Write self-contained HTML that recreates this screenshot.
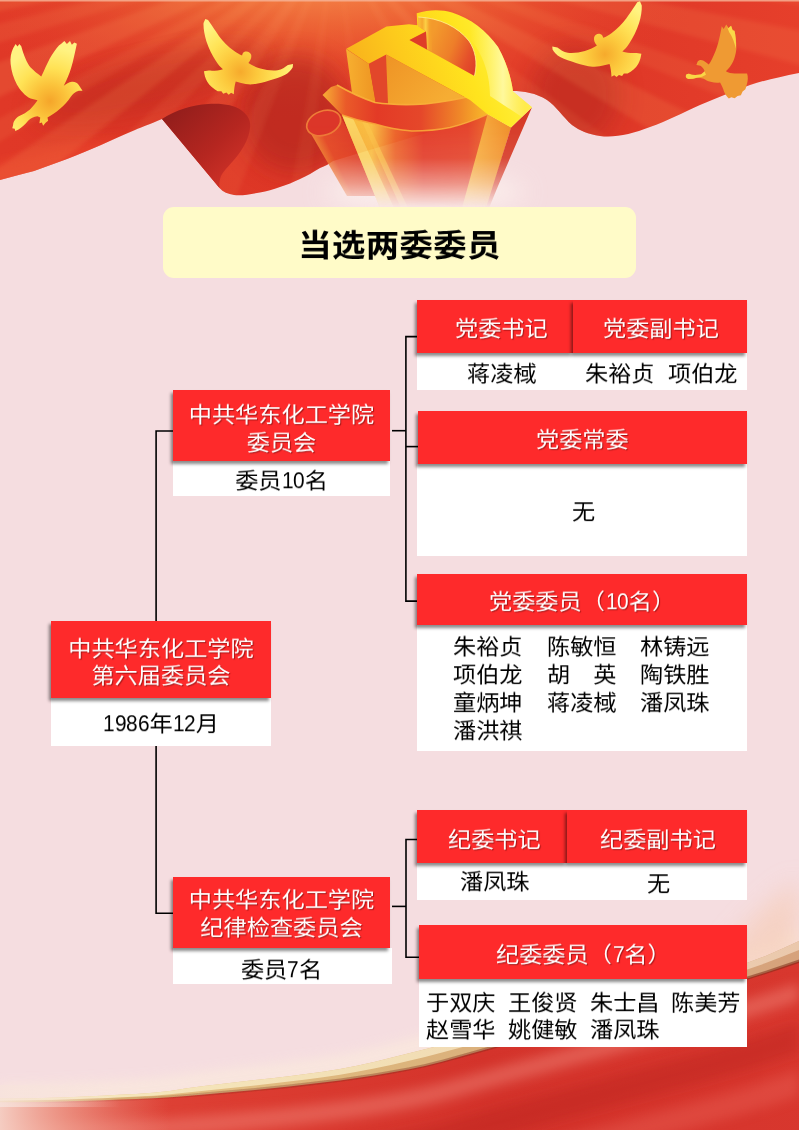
<!DOCTYPE html>
<html lang="zh-CN">
<head>
<meta charset="utf-8">
<title>当选两委委员</title>
<style>
html,body{margin:0;padding:0;}
body{width:799px;height:1130px;position:relative;overflow:hidden;background:#f5dde0;
  font-family:"Liberation Sans","Noto Sans CJK SC",sans-serif;font-size:23.2px;color:#000;}
#bg{position:absolute;left:0;top:0;width:799px;height:1130px;}
.abs{position:absolute;}
.red{position:absolute;background:#fe2a2b;color:#fff;text-align:center;white-space:nowrap;
  box-shadow:-2px 3px 3px rgba(0,0,0,.46);text-shadow:1px 1px 1px rgba(90,0,0,.55);line-height:28px;}
.wht{position:absolute;background:#fff;color:#000;text-align:center;white-space:nowrap;line-height:28px;}
.ln{position:absolute;background:#000;}
.t{position:absolute;white-space:nowrap;line-height:28px;height:28px;will-change:transform;transform:scaleY(.94);transform-origin:50% 26px;}
.n{display:inline-block;width:.5em;transform:scaleX(.9);transform-origin:0 50%;text-align:left;}
#title{position:absolute;left:163px;top:207px;width:473px;height:71px;border-radius:11px;background:#fffbc8;
  text-align:center;font-weight:bold;font-size:33.4px;letter-spacing:.4px;line-height:71px;color:#000;}
</style>
</head>
<body>
<!--BG-START-->
<svg id="bg" viewBox="0 0 799 1130" width="799" height="1130">
<defs>
  <linearGradient id="flagG" x1="0" y1="0" x2="799" y2="0" gradientUnits="userSpaceOnUse">
    <stop offset="0" stop-color="#e03827"/>
    <stop offset="0.25" stop-color="#dd3626"/>
    <stop offset="0.5" stop-color="#e23b28"/>
    <stop offset="0.8" stop-color="#e03928"/>
    <stop offset="1" stop-color="#e63f2b"/>
  </linearGradient>
  <radialGradient id="glowG" cx="320" cy="-30" r="300" gradientUnits="userSpaceOnUse" gradientTransform="translate(320 -30) scale(1.3 0.5) translate(-320 30)">
    <stop offset="0" stop-color="#fba057" stop-opacity=".95"/>
    <stop offset="0.4" stop-color="#f47a3c" stop-opacity=".6"/>
    <stop offset="1" stop-color="#e8402a" stop-opacity="0"/>
  </radialGradient>
  <linearGradient id="foldG" x1="170" y1="105" x2="245" y2="185" gradientUnits="userSpaceOnUse">
    <stop offset="0" stop-color="#8f1d1b"/>
    <stop offset="0.55" stop-color="#b52620"/>
    <stop offset="1" stop-color="#d8352a"/>
  </linearGradient>
  <linearGradient id="fadeG" x1="0" y1="122" x2="0" y2="208" gradientUnits="userSpaceOnUse">
    <stop offset="0" stop-color="#fff" stop-opacity="1"/>
    <stop offset="0.42" stop-color="#fff" stop-opacity=".9"/>
    <stop offset="0.72" stop-color="#fff" stop-opacity=".5"/>
    <stop offset="1" stop-color="#fff" stop-opacity="0"/>
  </linearGradient>
  <mask id="fadeM" maskUnits="userSpaceOnUse" x="280" y="0" width="300" height="220">
    <rect x="280" y="0" width="300" height="220" fill="url(#fadeG)"/>
  </mask>
  <linearGradient id="yelG" x1="350" y1="85" x2="505" y2="25" gradientUnits="userSpaceOnUse">
    <stop offset="0" stop-color="#f7ad1c"/>
    <stop offset="0.35" stop-color="#fdca1c"/>
    <stop offset="0.7" stop-color="#ffe41e"/>
    <stop offset="1" stop-color="#fff23e"/>
  </linearGradient>
  <linearGradient id="bandG" x1="325" y1="100" x2="500" y2="105" gradientUnits="userSpaceOnUse">
    <stop offset="0" stop-color="#f6a534"/>
    <stop offset="0.12" stop-color="#ea5a29"/>
    <stop offset="0.3" stop-color="#e33a26"/>
    <stop offset="0.55" stop-color="#e5472a"/>
    <stop offset="0.78" stop-color="#f08a28"/>
    <stop offset="1" stop-color="#fdd22a"/>
  </linearGradient>
  <linearGradient id="wallG" x1="342" y1="0" x2="490" y2="0" gradientUnits="userSpaceOnUse">
    <stop offset="0" stop-color="#f8b83a"/>
    <stop offset="0.2" stop-color="#f9bf45"/>
    <stop offset="0.36" stop-color="#ec672d"/>
    <stop offset="0.55" stop-color="#e23c28"/>
    <stop offset="0.85" stop-color="#e4432a"/>
    <stop offset="1" stop-color="#ec6a2c"/>
  </linearGradient>
  <linearGradient id="doveG" x1="0" y1="0" x2="1" y2="1">
    <stop offset="0" stop-color="#fff066"/>
    <stop offset="0.6" stop-color="#ffd52e"/>
    <stop offset="1" stop-color="#f6a81c"/>
  </linearGradient>
  
  <radialGradient id="doveG1" cx="400" cy="570" r="430" gradientUnits="userSpaceOnUse">
    <stop offset="0" stop-color="#f5a52a"/>
    <stop offset="0.3" stop-color="#fbc23a"/>
    <stop offset="0.62" stop-color="#ffe255"/>
    <stop offset="1" stop-color="#fff382"/>
  </radialGradient>
  <radialGradient id="doveG2" cx="330" cy="450" r="400" gradientUnits="userSpaceOnUse">
    <stop offset="0" stop-color="#f6aa2c"/>
    <stop offset="0.3" stop-color="#fcc83c"/>
    <stop offset="0.65" stop-color="#ffe458"/>
    <stop offset="1" stop-color="#fff382"/>
  </radialGradient>

  <linearGradient id="ribG" x1="0" y1="1130" x2="799" y2="980" gradientUnits="userSpaceOnUse">
    <stop offset="0" stop-color="#e0493c"/>
    <stop offset="0.3" stop-color="#dc3c31"/>
    <stop offset="0.6" stop-color="#d4332b"/>
    <stop offset="1" stop-color="#d8372e"/>
  </linearGradient>
  <linearGradient id="bandTopG" x1="0" y1="0" x2="799" y2="0" gradientUnits="userSpaceOnUse">
    <stop offset="0" stop-color="#e9c98a"/>
    <stop offset="0.5" stop-color="#dcb47c"/>
    <stop offset="1" stop-color="#d6a27c"/>
  </linearGradient>
  <linearGradient id="leftFadeG" x1="0" y1="0" x2="170" y2="0" gradientUnits="userSpaceOnUse">
    <stop offset="0" stop-color="#f6d3c8" stop-opacity=".95"/>
    <stop offset="0.4" stop-color="#f3b9a8" stop-opacity=".6"/>
    <stop offset="1" stop-color="#f0a090" stop-opacity="0"/>
  </linearGradient>
  <filter id="b2" x="-10%" y="-30%" width="120%" height="160%"><feGaussianBlur stdDeviation="2"/></filter>
  <clipPath id="ribClip"><path d="M0,1130 L0,1101.5 L17,1101.4 L34,1101.2 L51,1100.9 L68,1100.5 L85,1100.0 L102,1099.4 L119,1098.8 L136,1098.1 L153,1097.4 L170,1096.4 L187,1095.1 L204,1093.7 L221,1092.2 L238,1090.7 L255,1089.1 L272,1087.5 L289,1085.7 L306,1083.8 L323,1081.7 L340,1079.6 L357,1077.3 L374,1074.6 L391,1071.8 L408,1068.6 L425,1065.1 L442,1060.9 L459,1056.3 L476,1051.5 L493,1046.7 L510,1042.1 L527,1037.5 L544,1032.9 L561,1028.3 L578,1023.8 L595,1019.2 L612,1014.7 L629,1010.1 L646,1005.5 L663,1001.0 L680,996.5 L697,991.9 L714,987.3 L731,982.4 L748,977.4 L765,972.1 L782,966.5 L799,960.7 L799,1130 Z"/></clipPath>
  <linearGradient id="leftFadeG2" x1="0" y1="0" x2="120" y2="0" gradientUnits="userSpaceOnUse">
    <stop offset="0" stop-color="#f7e3dc" stop-opacity=".8"/>
    <stop offset="1" stop-color="#f7e3dc" stop-opacity="0"/>
  </linearGradient>
  <clipPath id="flagClip"><path d="M0,0 H799 V73 C780,77 765,80 750,85 C732,92 716,98 700,105 C682,113 667,121 650,127 C632,134 615,138 600,136 C588,134 580,131 572,125 C563,117 556,106 547,100 C536,93 524,91 512,91 L470,120 L333,161 C329,164 325,166 320,168 C313,172 307,176 300,179 C293,182 287,185 280,187 C273,189.5 267,191.5 260,192.5 C251,194 242,196 234,195 C228,194 223,192 219.5,188 L162,119 C150,124 142,127 135,130 C123,135 112,140 101,145 C90,150 79,154 67,159 C56,163 45,167 34,171 C22,174 11,177 0,180 Z"/></clipPath>

  <linearGradient id="cylG" x1="315" y1="150" x2="365" y2="125" gradientUnits="userSpaceOnUse">
    <stop offset="0" stop-color="#f39a3c"/>
    <stop offset="0.25" stop-color="#e6502c"/>
    <stop offset="1" stop-color="#d93628"/>
  </linearGradient>
  <linearGradient id="hwG" x1="470" y1="0" x2="512" y2="0" gradientUnits="userSpaceOnUse">
    <stop offset="0" stop-color="#f8b545"/>
    <stop offset="1" stop-color="#f08c28"/>
  </linearGradient>
  <linearGradient id="hlwG" x1="346" y1="0" x2="376" y2="0" gradientUnits="userSpaceOnUse">
    <stop offset="0" stop-color="#f7b030"/>
    <stop offset="1" stop-color="#ee9422"/>
  </linearGradient>
  <linearGradient id="hfwG" x1="388" y1="60" x2="440" y2="105" gradientUnits="userSpaceOnUse">
    <stop offset="0" stop-color="#ef9526"/>
    <stop offset="1" stop-color="#f6ad33"/>
  </linearGradient>
  <linearGradient id="innerG" x1="430" y1="40" x2="478" y2="60" gradientUnits="userSpaceOnUse">
    <stop offset="0" stop-color="#f39a2c"/>
    <stop offset="0.45" stop-color="#ee7e29"/>
    <stop offset="0.8" stop-color="#e5502a"/>
    <stop offset="1" stop-color="#df3f29"/>
  </linearGradient>
  <linearGradient id="innerStreak" x1="418" y1="0" x2="432" y2="0" gradientUnits="userSpaceOnUse">
    <stop offset="0" stop-color="#fbc43a"/>
    <stop offset="0.3" stop-color="#f6a82e"/>
    <stop offset="0.55" stop-color="#fcd045"/>
    <stop offset="0.8" stop-color="#f5a22c"/>
    <stop offset="1" stop-color="#f39a2c"/>
  </linearGradient>
  <linearGradient id="yelHi" x1="470" y1="60" x2="525" y2="60" gradientUnits="userSpaceOnUse">
    <stop offset="0" stop-color="#fff68a" stop-opacity="0"/>
    <stop offset="0.6" stop-color="#fffbb0" stop-opacity=".85"/>
    <stop offset="1" stop-color="#ffe95a" stop-opacity=".6"/>
  </linearGradient>
  <linearGradient id="edgeG" x1="0" y1="0" x2="799" y2="0" gradientUnits="userSpaceOnUse">
    <stop offset="0" stop-color="#7c2a18" stop-opacity="0"/>
    <stop offset="0.3" stop-color="#7c2a18" stop-opacity=".3"/>
    <stop offset="1" stop-color="#7c2a18" stop-opacity=".55"/>
  </linearGradient>
  <linearGradient id="creamG" x1="0" y1="0" x2="799" y2="0" gradientUnits="userSpaceOnUse">
    <stop offset="0" stop-color="#f8ecc2"/>
    <stop offset="0.5" stop-color="#f4e2ba"/>
    <stop offset="0.8" stop-color="#f0d6b8"/>
    <stop offset="1" stop-color="#eccbb0"/>
  </linearGradient>
  <filter id="b1" x="-10%" y="-10%" width="120%" height="120%"><feGaussianBlur stdDeviation="0.6"/></filter>
  <filter id="b6" x="-20%" y="-20%" width="140%" height="140%"><feGaussianBlur stdDeviation="6"/></filter>
  <filter id="b12" x="-30%" y="-30%" width="160%" height="160%"><feGaussianBlur stdDeviation="12"/></filter>
</defs>

<!-- page background -->
<rect x="0" y="0" width="799" height="1130" fill="#f5dde0"/>

<!-- TOP FLAG -->
<g id="flag">
  <path id="flagShape" d="M0,0 H799 V73 C780,77 765,80 750,85 C732,92 716,98 700,105 C682,113 667,121 650,127 C632,134 615,138 600,136 C588,134 580,131 572,125 C563,117 556,106 547,100 C536,93 524,91 512,91 L470,120 L333,161 C329,164 325,166 320,168 C313,172 307,176 300,179 C293,182 287,185 280,187 C273,189.5 267,191.5 260,192.5 C251,194 242,196 234,195 C228,194 223,192 219.5,188 L162,119 C150,124 142,127 135,130 C123,135 112,140 101,145 C90,150 79,154 67,159 C56,163 45,167 34,171 C22,174 11,177 0,180 Z" fill="url(#flagG)"/>
  <g clip-path="url(#flagClip)">
    <rect x="0" y="0" width="799" height="210" fill="url(#glowG)"/>
    <ellipse cx="295" cy="115" rx="55" ry="58" fill="#a8211f" opacity=".55" filter="url(#b12)"/>
    <ellipse cx="575" cy="95" rx="45" ry="50" fill="#a8211f" opacity=".42" filter="url(#b12)"/>
    <ellipse cx="150" cy="85" rx="120" ry="28" transform="rotate(-14 150 85)" fill="#b4261e" opacity=".42" filter="url(#b12)"/>
    <ellipse cx="40" cy="165" rx="90" ry="14" transform="rotate(-14 40 165)" fill="#ee4a2e" opacity=".5" filter="url(#b6)"/>
    <g filter="url(#b2)">
    <path d="M335,-60 L-180,12 L-174,48 Z" fill="#ffb060" opacity="0.15"/>
    <path d="M335,-60 L-170,66 L-162,92 Z" fill="#ffb060" opacity="0.11"/>
    <path d="M335,-60 L-154,118 L-136,160 Z" fill="#ffb060" opacity="0.14"/>
    <path d="M335,-60 L-124,184 L-111,208 Z" fill="#ffb060" opacity="0.10"/>
    <path d="M335,-60 L-96,231 L-69,267 Z" fill="#ffb060" opacity="0.13"/>
    <path d="M335,-60 L-45,295 L-20,320 Z" fill="#ffb060" opacity="0.09"/>
    <path d="M335,-60 L15,350 L59,381 Z" fill="#ffb060" opacity="0.11"/>
    <path d="M335,-60 L107,407 L149,425 Z" fill="#ffb060" opacity="0.08"/>
    <path d="M335,-60 L245,452 L281,457 Z" fill="#ffb060" opacity="0.07"/>
    <path d="M335,-60 L389,457 L425,452 Z" fill="#ffb060" opacity="0.06"/>
    <path d="M335,-60 L579,399 L618,376 Z" fill="#ffb060" opacity="0.09"/>
    <path d="M335,-60 L669,338 L703,308 Z" fill="#ffb060" opacity="0.12"/>
    <path d="M335,-60 L733,274 L756,246 Z" fill="#ffb060" opacity="0.09"/>
    <path d="M335,-60 L781,208 L802,168 Z" fill="#ffb060" opacity="0.13"/>
    <path d="M335,-60 L817,135 L827,109 Z" fill="#ffb060" opacity="0.10"/>
    <path d="M335,-60 L837,75 L845,39 Z" fill="#ffb060" opacity="0.12"/>
    <path d="M335,-60 L850,12 L853,-15 Z" fill="#ffb060" opacity="0.09"/>
    </g>
    <rect x="0" y="0" width="799" height="1.5" fill="#f6b59a" opacity=".8"/>
  </g>
  <!-- fold underside -->
  <path d="M162,119 C176,110 192,105 208,104 C222,103 234,105 241,110 C248,115 251,121 250,128 C249,138 244,147 238,155 C231,164 224,170 221,176 C219.5,180 219,184 219.5,188 Z" fill="url(#foldG)"/>
</g>

<!-- EMBLEM -->
<g id="emblem">
  <!-- white glow under emblem -->
  <ellipse cx="425" cy="192" rx="100" ry="20" fill="#fdf3ef" opacity=".75" filter="url(#b12)"/>
  <g mask="url(#fadeM)">
    <!-- rolled cylinder -->
    <path d="M307,127 L347,196 L385,196 L341,118 Z" fill="url(#cylG)"/>
    <ellipse cx="323.7" cy="123" rx="17.5" ry="12" transform="rotate(-20 323.7 123)" fill="#dc3629" stroke="#ee7c38" stroke-width="1.7"/>
    <!-- sickle outer wall -->
    <path d="M342,115 C353,119 364,122 375,124 C388,128 400,130 412,131 C426,131 438,130 450,127.5 C464,124 477,119 487.5,114.3 L511,127.5 L482,208 L380,208 Z" fill="url(#wallG)"/>
    <!-- streaks on left wall -->
    <path d="M342,115 L353,118.5 L394,208 L380,208 Z" fill="#fcd868" opacity=".85"/>
    <path d="M362,121.5 L368,123 L408,208 L401,208 Z" fill="#fbc94e" opacity=".6"/>
    <!-- handle lower side wall -->
    <path d="M487.5,114.3 L511,127.5 L487,208 L462,208 Z" fill="url(#hwG)"/>
    <!-- handle end wall -->
    <path d="M511,127.5 L532,107.3 L498,186 L489,208 L486,208 Z" fill="#d63a26"/>
  </g>
  <!-- walls of hammer (under top face) -->
  <path d="M346,49 L369,64 L376,104 L352,93 Z" fill="url(#hlwG)"/>
  <path d="M369,64 L386,54.5 L388,104 L376,104 Z" fill="#e2472a"/>
  <path d="M386,54.5 L470,100 L425,106 L388,104 Z" fill="url(#hfwG)"/>
  <!-- sickle bottom band -->
  <path d="M322.5,95 L331,87 L337,85 C349,92 362,98 375,102.5 C392,105 408,105 425,104 C443,102 460,99 475,95 L500,100 L487.5,114.3 C477,119 464,124 450,127.5 C438,130 426,131 412,131 C400,130 388,128 375,124 C364,122 353,119 342,115 Z" fill="url(#bandG)"/>
  <path d="M337,85 C349,92 362,98 375,102.5 C392,105 408,105 425,104 C443,102 460,99 475,95" fill="none" stroke="#f9b23a" stroke-width="1.6" opacity=".9"/>
  <path d="M342,115 C353,119 364,122 375,124 C388,128 400,130 412,131 C426,131 438,130 450,127.5 C464,124 477,119 487.5,114.3" fill="none" stroke="#f8a838" stroke-width="1.4" opacity=".9"/>
  <!-- top faces -->
  <path d="M346.25,48.75 L386.5,26.5 L409,24.2 L417.3,25.3 L416.7,13.2 C430,9 442,9.5 452,12.5 C470,18 487,31 498,47 C506,61 511,77 513,91.5 L532,107.3 L511,127.5 L487.5,114.3 L470,100 L386.25,54.5 L368.75,63.75 Z" fill="url(#yelG)"/>
  <path d="M452,12.5 C470,18 487,31 498,47 C506,61 511,77 513,91.5 L532,107.3 L522,117 L490,96 C490,70 480,42 452,22 Z" fill="url(#yelHi)"/>
  <!-- hollow inside sickle: inner wall -->
  <path d="M409.5,40 L426,31.5 L418.3,26.3 L418.3,17 C440,18 458,27 469,41 C475,50 478,62 474.5,76 Z" fill="url(#innerG)"/>
  <path d="M418.3,17 C423,17.2 428,17.8 432,18.8 L432,51.5 L427,48.8 L426,31.5 L418.3,26.3 Z" fill="url(#innerStreak)"/>
  <path d="M409.5,40 L426,31.5 L427,49.5 Z" fill="#df3d28"/>
  <path d="M418.3,17 C440,18 458,27 469,41 C475,50 478,62 474.5,76" fill="none" stroke="#fff9a0" stroke-width="1" opacity=".7"/>
</g>


<!-- BOTTOM RIBBON -->
<g id="ribbon">
  <path d="M0,1095.5 L0,1084.5 L17,1084.4 L34,1084.2 L51,1083.7 L68,1083.2 L85,1082.5 L102,1081.7 L119,1080.8 L136,1079.9 L153,1078.8 L170,1076.9 L187,1074.3 L204,1072.0 L221,1069.9 L238,1068.0 L255,1066.1 L272,1064.2 L289,1062.2 L306,1060.1 L323,1057.7 L340,1055.0 L357,1051.8 L374,1047.9 L391,1043.7 L408,1039.4 L425,1035.2 L442,1030.9 L459,1026.5 L476,1022.0 L493,1017.6 L510,1013.2 L527,1008.7 L544,1004.3 L561,999.8 L578,995.3 L595,990.7 L612,986.2 L629,981.6 L646,977.2 L663,972.9 L680,968.5 L697,964.0 L714,959.3 L731,954.2 L748,948.6 L765,942.2 L782,934.8 L799,927.0 L799,944.0 L782,951.8 L765,959.2 L748,965.6 L731,971.2 L714,976.3 L697,981.0 L680,985.5 L663,989.9 L646,994.2 L629,998.6 L612,1003.2 L595,1007.7 L578,1012.3 L561,1016.8 L544,1021.3 L527,1025.7 L510,1030.2 L493,1034.6 L476,1039.0 L459,1043.5 L442,1047.9 L425,1052.2 L408,1056.4 L391,1060.7 L374,1064.9 L357,1068.8 L340,1072.0 L323,1074.7 L306,1077.1 L289,1079.2 L272,1081.2 L255,1083.1 L238,1085.0 L221,1086.9 L204,1089.0 L187,1091.3 L170,1093.9 L153,1095.8 L136,1096.9 L119,1097.8 L102,1098.7 L85,1099.5 L68,1100.2 L51,1100.7 L34,1101.2 L17,1101.4 L0,1101.5 Z" fill="#fbeadd" opacity=".75" filter="url(#b6)"/>
  <path d="M799,880 L799,960 L700,990 C720,950 760,905 799,880 Z" fill="#f6cdb8" opacity=".7" filter="url(#b12)"/>
  <path d="M0,1130 L0,1101.5 L17,1101.4 L34,1101.2 L51,1100.9 L68,1100.5 L85,1100.0 L102,1099.4 L119,1098.8 L136,1098.1 L153,1097.4 L170,1096.4 L187,1095.1 L204,1093.7 L221,1092.2 L238,1090.7 L255,1089.1 L272,1087.5 L289,1085.7 L306,1083.8 L323,1081.7 L340,1079.6 L357,1077.3 L374,1074.6 L391,1071.8 L408,1068.6 L425,1065.1 L442,1060.9 L459,1056.3 L476,1051.5 L493,1046.7 L510,1042.1 L527,1037.5 L544,1032.9 L561,1028.3 L578,1023.8 L595,1019.2 L612,1014.7 L629,1010.1 L646,1005.5 L663,1001.0 L680,996.5 L697,991.9 L714,987.3 L731,982.4 L748,977.4 L765,972.1 L782,966.5 L799,960.7 L799,1130 Z" fill="url(#ribG)"/>
  <g clip-path="url(#ribClip)">
    <path d="M0,1130 L0,1123.5 L17,1123.4 L34,1123.2 L51,1122.9 L68,1122.5 L85,1122.0 L102,1121.4 L119,1120.8 L136,1120.1 L153,1119.4 L170,1118.4 L187,1117.1 L204,1115.7 L221,1114.2 L238,1112.7 L255,1111.1 L272,1109.5 L289,1107.7 L306,1105.8 L323,1103.7 L340,1101.6 L357,1099.3 L374,1096.6 L391,1093.8 L408,1090.6 L425,1087.1 L442,1082.9 L459,1078.3 L476,1073.5 L493,1068.7 L510,1064.1 L527,1059.5 L544,1054.9 L561,1050.3 L578,1045.8 L595,1041.2 L612,1036.7 L629,1032.1 L646,1027.5 L663,1023.0 L680,1018.5 L697,1013.9 L714,1009.3 L731,1004.4 L748,999.4 L765,994.1 L782,988.5 L799,982.7 L799,1000.7 L782,1006.5 L765,1012.1 L748,1017.4 L731,1022.4 L714,1027.3 L697,1031.9 L680,1036.5 L663,1041.0 L646,1045.5 L629,1050.1 L612,1054.7 L595,1059.2 L578,1063.8 L561,1068.3 L544,1072.9 L527,1077.5 L510,1082.1 L493,1086.7 L476,1091.5 L459,1096.3 L442,1100.9 L425,1105.1 L408,1108.6 L391,1111.8 L374,1114.6 L357,1117.3 L340,1119.6 L323,1121.7 L306,1123.8 L289,1125.7 L272,1127.5 L255,1129.1 L238,1130.7 L221,1132.2 L204,1133.7 L187,1135.1 L170,1136.4 L153,1137.4 L136,1138.1 L119,1138.8 L102,1139.4 L85,1140.0 L68,1140.5 L51,1140.9 L34,1141.2 L17,1141.4 L0,1141.5 Z" fill="#f08478" opacity=".5" filter="url(#b6)"/>
    <path d="M0,1130 L0,1163.5 L17,1163.4 L34,1163.2 L51,1162.9 L68,1162.5 L85,1162.0 L102,1161.4 L119,1160.8 L136,1160.1 L153,1159.4 L170,1158.4 L187,1157.1 L204,1155.7 L221,1154.2 L238,1152.7 L255,1151.1 L272,1149.5 L289,1147.7 L306,1145.8 L323,1143.7 L340,1141.6 L357,1139.3 L374,1136.6 L391,1133.8 L408,1130.6 L425,1127.1 L442,1122.9 L459,1118.3 L476,1113.5 L493,1108.7 L510,1104.1 L527,1099.5 L544,1094.9 L561,1090.3 L578,1085.8 L595,1081.2 L612,1076.7 L629,1072.1 L646,1067.5 L663,1063.0 L680,1058.5 L697,1053.9 L714,1049.3 L731,1044.4 L748,1039.4 L765,1034.1 L782,1028.5 L799,1022.7 L799,1052.7 L782,1058.5 L765,1064.1 L748,1069.4 L731,1074.4 L714,1079.3 L697,1083.9 L680,1088.5 L663,1093.0 L646,1097.5 L629,1102.1 L612,1106.7 L595,1111.2 L578,1115.8 L561,1120.3 L544,1124.9 L527,1129.5 L510,1134.1 L493,1138.7 L476,1143.5 L459,1148.3 L442,1152.9 L425,1157.1 L408,1160.6 L391,1163.8 L374,1166.6 L357,1169.3 L340,1171.6 L323,1173.7 L306,1175.8 L289,1177.7 L272,1179.5 L255,1181.1 L238,1182.7 L221,1184.2 L204,1185.7 L187,1187.1 L170,1188.4 L153,1189.4 L136,1190.1 L119,1190.8 L102,1191.4 L85,1192.0 L68,1192.5 L51,1192.9 L34,1193.2 L17,1193.4 L0,1193.5 Z" fill="#b8241f" opacity=".4" filter="url(#b6)"/>
    <path d="M0,1130 L0,1211.5 L17,1211.4 L34,1211.2 L51,1210.9 L68,1210.5 L85,1210.0 L102,1209.4 L119,1208.8 L136,1208.1 L153,1207.4 L170,1206.4 L187,1205.1 L204,1203.7 L221,1202.2 L238,1200.7 L255,1199.1 L272,1197.5 L289,1195.7 L306,1193.8 L323,1191.7 L340,1189.6 L357,1187.3 L374,1184.6 L391,1181.8 L408,1178.6 L425,1175.1 L442,1170.9 L459,1166.3 L476,1161.5 L493,1156.7 L510,1152.1 L527,1147.5 L544,1142.9 L561,1138.3 L578,1133.8 L595,1129.2 L612,1124.7 L629,1120.1 L646,1115.5 L663,1111.0 L680,1106.5 L697,1101.9 L714,1097.3 L731,1092.4 L748,1087.4 L765,1082.1 L782,1076.5 L799,1070.7 L799,1095.7 L782,1101.5 L765,1107.1 L748,1112.4 L731,1117.4 L714,1122.3 L697,1126.9 L680,1131.5 L663,1136.0 L646,1140.5 L629,1145.1 L612,1149.7 L595,1154.2 L578,1158.8 L561,1163.3 L544,1167.9 L527,1172.5 L510,1177.1 L493,1181.7 L476,1186.5 L459,1191.3 L442,1195.9 L425,1200.1 L408,1203.6 L391,1206.8 L374,1209.6 L357,1212.3 L340,1214.6 L323,1216.7 L306,1218.8 L289,1220.7 L272,1222.5 L255,1224.1 L238,1225.7 L221,1227.2 L204,1228.7 L187,1230.1 L170,1231.4 L153,1232.4 L136,1233.1 L119,1233.8 L102,1234.4 L85,1235.0 L68,1235.5 L51,1235.9 L34,1236.2 L17,1236.4 L0,1236.5 Z" fill="#ea6458" opacity=".4" filter="url(#b6)"/>
    <rect x="0" y="1080" width="170" height="50" fill="url(#leftFadeG)"/>
  </g>
  <path d="M0,1098.5 L0,1098.5 L17,1098.4 L34,1098.2 L51,1097.7 L68,1097.2 L85,1096.5 L102,1095.7 L119,1094.8 L136,1093.9 L153,1092.8 L170,1090.9 L187,1088.3 L204,1086.0 L221,1083.9 L238,1082.0 L255,1080.1 L272,1078.2 L289,1076.2 L306,1074.1 L323,1071.7 L340,1069.0 L357,1065.8 L374,1061.9 L391,1057.7 L408,1053.4 L425,1049.2 L442,1044.9 L459,1040.5 L476,1036.0 L493,1031.6 L510,1027.2 L527,1022.7 L544,1018.3 L561,1013.8 L578,1009.3 L595,1004.7 L612,1000.2 L629,995.6 L646,991.2 L663,986.9 L680,982.5 L697,978.0 L714,973.3 L731,968.2 L748,962.6 L765,956.2 L782,948.8 L799,941.0 L799,961.5 L782,967.3 L765,972.9 L748,978.2 L731,983.2 L714,988.1 L697,992.7 L680,997.3 L663,1001.8 L646,1006.3 L629,1010.9 L612,1015.5 L595,1020.0 L578,1024.6 L561,1029.1 L544,1033.7 L527,1038.3 L510,1042.9 L493,1047.5 L476,1052.3 L459,1057.1 L442,1061.7 L425,1065.9 L408,1069.4 L391,1072.6 L374,1075.4 L357,1078.1 L340,1080.4 L323,1082.5 L306,1084.6 L289,1086.5 L272,1088.3 L255,1089.9 L238,1091.5 L221,1093.0 L204,1094.5 L187,1095.9 L170,1097.2 L153,1098.2 L136,1098.9 L119,1099.6 L102,1100.2 L85,1100.8 L68,1101.3 L51,1101.7 L34,1102.0 L17,1102.2 L0,1102.3 Z" fill="url(#bandTopG)"/>
  <path d="M0,1098.5 L0,1098.5 L17,1098.4 L34,1098.2 L51,1097.7 L68,1097.2 L85,1096.5 L102,1095.7 L119,1094.8 L136,1093.9 L153,1092.8 L170,1090.9 L187,1088.3 L204,1086.0 L221,1083.9 L238,1082.0 L255,1080.1 L272,1078.2 L289,1076.2 L306,1074.1 L323,1071.7 L340,1069.0 L357,1065.8 L374,1061.9 L391,1057.7 L408,1053.4 L425,1049.2 L442,1044.9 L459,1040.5 L476,1036.0 L493,1031.6 L510,1027.2 L527,1022.7 L544,1018.3 L561,1013.8 L578,1009.3 L595,1004.7 L612,1000.2 L629,995.6 L646,991.2 L663,986.9 L680,982.5 L697,978.0 L714,973.3 L731,968.2 L748,962.6 L765,956.2 L782,948.8 L799,941.0 L799,949.9 L782,956.8 L765,963.3 L748,969.3 L731,974.6 L714,979.6 L697,984.3 L680,988.8 L663,993.2 L646,997.6 L629,1002.1 L612,1006.7 L595,1011.3 L578,1015.8 L561,1020.3 L544,1024.8 L527,1029.4 L510,1033.9 L493,1038.5 L476,1043.2 L459,1047.9 L442,1052.6 L425,1057.0 L408,1061.0 L391,1064.9 L374,1068.5 L357,1071.8 L340,1074.7 L323,1077.2 L306,1079.4 L289,1081.5 L272,1083.5 L255,1085.4 L238,1087.2 L221,1088.9 L204,1090.7 L187,1092.5 L170,1094.3 L153,1095.7 L136,1096.6 L119,1097.4 L102,1098.2 L85,1098.8 L68,1099.4 L51,1099.9 L34,1100.3 L17,1100.6 L0,1100.7 Z" fill="url(#creamG)" opacity=".92"/>
  <path d="M0,1100.5 L0,1100.3 L17,1100.2 L34,1100.0 L51,1099.7 L68,1099.3 L85,1098.8 L102,1098.2 L119,1097.6 L136,1096.9 L153,1096.2 L170,1095.2 L187,1093.9 L204,1092.5 L221,1091.0 L238,1089.5 L255,1087.9 L272,1086.3 L289,1084.5 L306,1082.6 L323,1080.5 L340,1078.4 L357,1076.1 L374,1073.4 L391,1070.6 L408,1067.4 L425,1063.9 L442,1059.7 L459,1055.1 L476,1050.3 L493,1045.5 L510,1040.9 L527,1036.3 L544,1031.7 L561,1027.1 L578,1022.6 L595,1018.0 L612,1013.5 L629,1008.9 L646,1004.3 L663,999.8 L680,995.3 L697,990.7 L714,986.1 L731,981.2 L748,976.2 L765,970.9 L782,965.3 L799,959.5 L799,962.9 L782,968.7 L765,974.3 L748,979.6 L731,984.6 L714,989.5 L697,994.1 L680,998.7 L663,1003.2 L646,1007.7 L629,1012.3 L612,1016.9 L595,1021.4 L578,1026.0 L561,1030.5 L544,1035.1 L527,1039.7 L510,1044.3 L493,1048.9 L476,1053.7 L459,1058.5 L442,1063.1 L425,1067.3 L408,1070.8 L391,1074.0 L374,1076.8 L357,1079.5 L340,1081.8 L323,1083.9 L306,1086.0 L289,1087.9 L272,1089.7 L255,1091.3 L238,1092.9 L221,1094.4 L204,1095.9 L187,1097.3 L170,1098.6 L153,1099.6 L136,1100.3 L119,1101.0 L102,1101.6 L85,1102.2 L68,1102.7 L51,1103.1 L34,1103.4 L17,1103.6 L0,1103.7 Z" fill="url(#edgeG)" filter="url(#b1)"/>
  <rect x="0" y="1085" width="120" height="22" fill="url(#leftFadeG2)"/>
</g>
<!-- DOVES -->
<g id="doves">
  <g transform="translate(0,30) scale(0.125)">
    <path d="M660,485 L630,440 C622,425 600,412 575,414 C550,418 530,432 510,445 C535,400 555,350 570,300 C585,250 600,180 615,110 L595,100 L575,118 L560,88 L535,112 L515,88 L490,110 C465,125 440,160 415,200 C390,240 370,285 350,330 L330,372 C300,350 270,325 245,300 C215,265 190,200 170,130 L155,112 L140,132 L125,112 L105,145 C88,180 80,225 85,270 C90,330 110,390 135,435 C160,480 200,525 245,548 L300,562 C285,585 265,610 240,635 C215,655 185,675 150,690 C125,705 105,735 105,760 L98,785 L118,790 L122,808 L148,795 C175,780 200,755 225,725 C245,705 270,695 300,690 L322,700 L315,745 L335,740 L345,765 L365,742 L385,725 L380,700 C410,685 445,660 480,630 C515,600 545,565 565,535 C580,510 600,495 630,485 Z" fill="url(#doveG1)"/>
  </g>
  <g transform="translate(195,10) scale(0.13766)">
    <path id="dv2" d="M75,65 L95,72 L110,95 C130,125 150,155 175,190 C205,230 240,265 280,295 C300,310 320,322 342,330 C345,315 352,305 365,302 C385,298 402,308 408,325 C412,345 405,365 388,385 C410,400 440,415 475,425 C515,437 560,442 600,438 C630,433 655,415 675,400 L712,393 L710,415 C700,435 680,455 655,470 C620,488 580,500 540,512 C500,525 460,535 420,540 C390,542 360,538 335,530 L296,520 C288,545 284,575 282,612 L262,602 L245,615 L228,600 L205,608 L192,590 L165,590 C135,575 105,550 88,520 C75,495 68,470 65,445 L100,440 C135,442 170,440 203,430 C185,415 168,395 152,370 C125,330 100,280 82,225 C68,180 60,130 62,95 Z" fill="url(#doveG2)"/>
  </g>
  <g transform="translate(650.3,-7.6) scale(-0.13766,0.13766)">
    <path d="M75,65 L95,72 L110,95 C130,125 150,155 175,190 C205,230 240,265 280,295 C300,310 320,322 342,330 C345,315 352,305 365,302 C385,298 402,308 408,325 C412,345 405,365 388,385 C410,400 440,415 475,425 C515,437 560,442 600,438 C630,433 655,415 675,400 L712,393 L710,415 C700,435 680,455 655,470 C620,488 580,500 540,512 C500,525 460,535 420,540 C390,542 360,538 335,530 L296,520 C288,545 284,575 282,612 L262,602 L245,615 L228,600 L205,608 L192,590 L165,590 C135,575 105,550 88,520 C75,495 68,470 65,445 L100,440 C135,442 170,440 203,430 C185,415 168,395 152,370 C125,330 100,280 82,225 C68,180 60,130 62,95 Z" fill="url(#doveG2)"/>
  </g>
  <g transform="translate(675,15) scale(0.11264)">
    <path d="M190,445 L200,415 C210,400 232,395 250,405 C270,415 285,430 300,440 C320,415 340,370 360,320 C380,270 400,190 415,100 L432,125 L455,85 L472,118 L498,95 L512,135 L528,140 C538,180 545,240 545,300 C540,345 530,385 515,415 C500,445 480,475 452,500 C475,512 500,520 530,520 L640,520 C650,550 648,585 638,615 L625,660 L600,680 L585,712 L555,718 L530,738 L500,730 L478,742 C460,725 445,705 435,680 C428,655 415,625 400,600 C375,605 345,602 315,592 C290,585 270,575 255,565 C235,560 215,558 195,558 L160,565 L120,568 C105,565 95,555 96,542 C98,528 108,520 125,522 L150,530 L180,532 C205,532 230,528 250,518 C262,510 265,498 258,485 C250,470 238,458 225,450 Z" fill="#ef9a33"/>
    <path d="M455,85 L472,118 L498,95 L512,135 L528,140 C538,180 545,240 540,300 C530,250 510,190 480,150 Z" fill="#fbe04a" opacity=".9"/>
    <path d="M120,568 C105,565 95,555 96,542 C98,528 108,520 125,522 L150,530 L180,532 L230,528 L262,500 L275,530 L240,548 L195,558 L160,565 Z" fill="#fbe04a" opacity=".85"/>
  </g>
</g>
</svg>
<!--BG-END-->

<div id="title"><span class="abs" style="left:0;top:2.5px;width:473px;will-change:transform;transform:scaleY(.93);">当选两委委员</span></div>

<!-- connector lines -->
<svg class="abs" style="left:0;top:0;" width="799" height="1130" viewBox="0 0 799 1130">
  <g fill="none" stroke="#000" stroke-width="1.6" stroke-linejoin="miter">
    <path d="M173,431 H156.1 V621"/>
    <path d="M173,913.2 H156.1 V745"/>
    <path d="M392,430.7 H405.9"/>
    <path d="M417,336.6 H405.9 V601.1 H417"/>
    <path d="M405.9,446.6 H418"/>
    <path d="M392,906.4 H406"/>
    <path d="M417,839.5 H406 V957.2 H419"/>
  </g>
</svg>

<!-- root -->
<div class="wht" style="left:51px;top:698px;width:220px;height:47.5px;"><span class="t" style="left:0;width:220px;top:11px;"><span class="n">1</span><span class="n">9</span><span class="n">8</span><span class="n">6</span>年<span class="n">1</span><span class="n">2</span>月</span></div>
<div class="red" style="left:51px;top:621px;width:220px;height:77px;"><span class="t" style="left:0;width:220px;top:13px;">中共华东化工学院</span><span class="t" style="left:0;width:220px;top:40.2px;">第六届委员会</span></div>

<!-- committee 1 -->
<div class="wht" style="left:173px;top:461px;width:217px;height:35px;"><span class="t" style="left:0;width:217px;top:5px;">委员<span class="n">1</span><span class="n">0</span>名</span></div>
<div class="red" style="left:173px;top:390px;width:217px;height:71px;"><span class="t" style="left:0;width:217px;top:10px;">中共华东化工学院</span><span class="t" style="left:0;width:217px;top:37.5px;">委员会</span></div>

<!-- committee 2 -->
<div class="wht" style="left:173px;top:948px;width:219px;height:35.5px;"><span class="t" style="left:0;width:217px;top:7px;">委员<span class="n">7</span>名</span></div>
<div class="red" style="left:173px;top:877px;width:217px;height:71px;"><span class="t" style="left:0;width:217px;top:8px;">中共华东化工学院</span><span class="t" style="left:0;width:217px;top:36px;">纪律检查委员会</span></div>

<!-- 党委书记 / 副书记 -->
<div class="wht" style="left:417px;top:353px;width:330px;height:36.5px;">
  <span class="t" style="left:50px;top:6px;">蒋凌棫</span>
  <span class="t" style="left:168px;top:6px;">朱裕贞</span>
  <span class="t" style="left:251px;top:6px;">项伯龙</span>
</div>
<div class="red" style="left:417px;top:300px;width:156px;height:53px;"><span class="t" style="left:38px;top:14px;">党委书记</span></div>
<div class="red" style="left:573px;top:300px;width:174px;height:53px;"><span class="t" style="left:30px;top:14px;">党委副书记</span></div>

<!-- 党委常委 -->
<div class="wht" style="left:417px;top:464px;width:330px;height:92px;"><span class="t" style="left:155px;top:33px;">无</span></div>
<div class="red" style="left:418px;top:411px;width:329px;height:53px;"><span class="t" style="left:118px;top:14px;">党委常委</span></div>

<!-- 党委委员 -->
<div class="wht" style="left:417px;top:625px;width:330px;height:126px;">
  <span class="t" style="left:36px;top:7px;">朱裕贞</span><span class="t" style="left:130px;top:7px;">陈敏恒</span><span class="t" style="left:223px;top:7px;">林铸远</span>
  <span class="t" style="left:36px;top:35px;">项伯龙</span><span class="t" style="left:130px;top:35px;">胡　英</span><span class="t" style="left:223px;top:35px;">陶铁胜</span>
  <span class="t" style="left:36px;top:63px;">童炳坤</span><span class="t" style="left:130px;top:63px;">蒋凌棫</span><span class="t" style="left:223px;top:63px;">潘凤珠</span>
  <span class="t" style="left:36px;top:91px;">潘洪祺</span>
</div>
<div class="red" style="left:417px;top:574px;width:330px;height:51px;"><span class="t" style="left:72px;top:13px;">党委委员<span style="letter-spacing:.7px">（</span><span class="n">1</span><span class="n">0</span>名）</span></div>

<!-- 纪委书记 / 副书记 -->
<div class="wht" style="left:417px;top:863px;width:330px;height:36.5px;">
  <span class="t" style="left:42.5px;top:4px;">潘凤珠</span>
  <span class="t" style="left:230px;top:6px;">无</span>
</div>
<div class="red" style="left:417px;top:810px;width:150px;height:53px;"><span class="t" style="left:31px;top:15px;">纪委书记</span></div>
<div class="red" style="left:567px;top:810px;width:180px;height:53px;"><span class="t" style="left:33px;top:15px;">纪委副书记</span></div>

<!-- 纪委委员 -->
<div class="wht" style="left:419px;top:979px;width:328px;height:68px;">
  <span class="t" style="left:7px;top:9px;">于双庆</span><span class="t" style="left:89px;top:9px;">王俊贤</span><span class="t" style="left:171px;top:9px;">朱士昌</span><span class="t" style="left:252px;top:9px;">陈美芳</span>
  <span class="t" style="left:7px;top:36px;">赵雪华</span><span class="t" style="left:89px;top:36px;">姚健敏</span><span class="t" style="left:171px;top:36px;">潘凤珠</span>
</div>
<div class="red" style="left:419px;top:925px;width:328px;height:54px;"><span class="t" style="left:77px;top:15px;">纪委委员<span style="letter-spacing:.7px">（</span><span class="n">7</span>名）</span></div>

</body>
</html>
